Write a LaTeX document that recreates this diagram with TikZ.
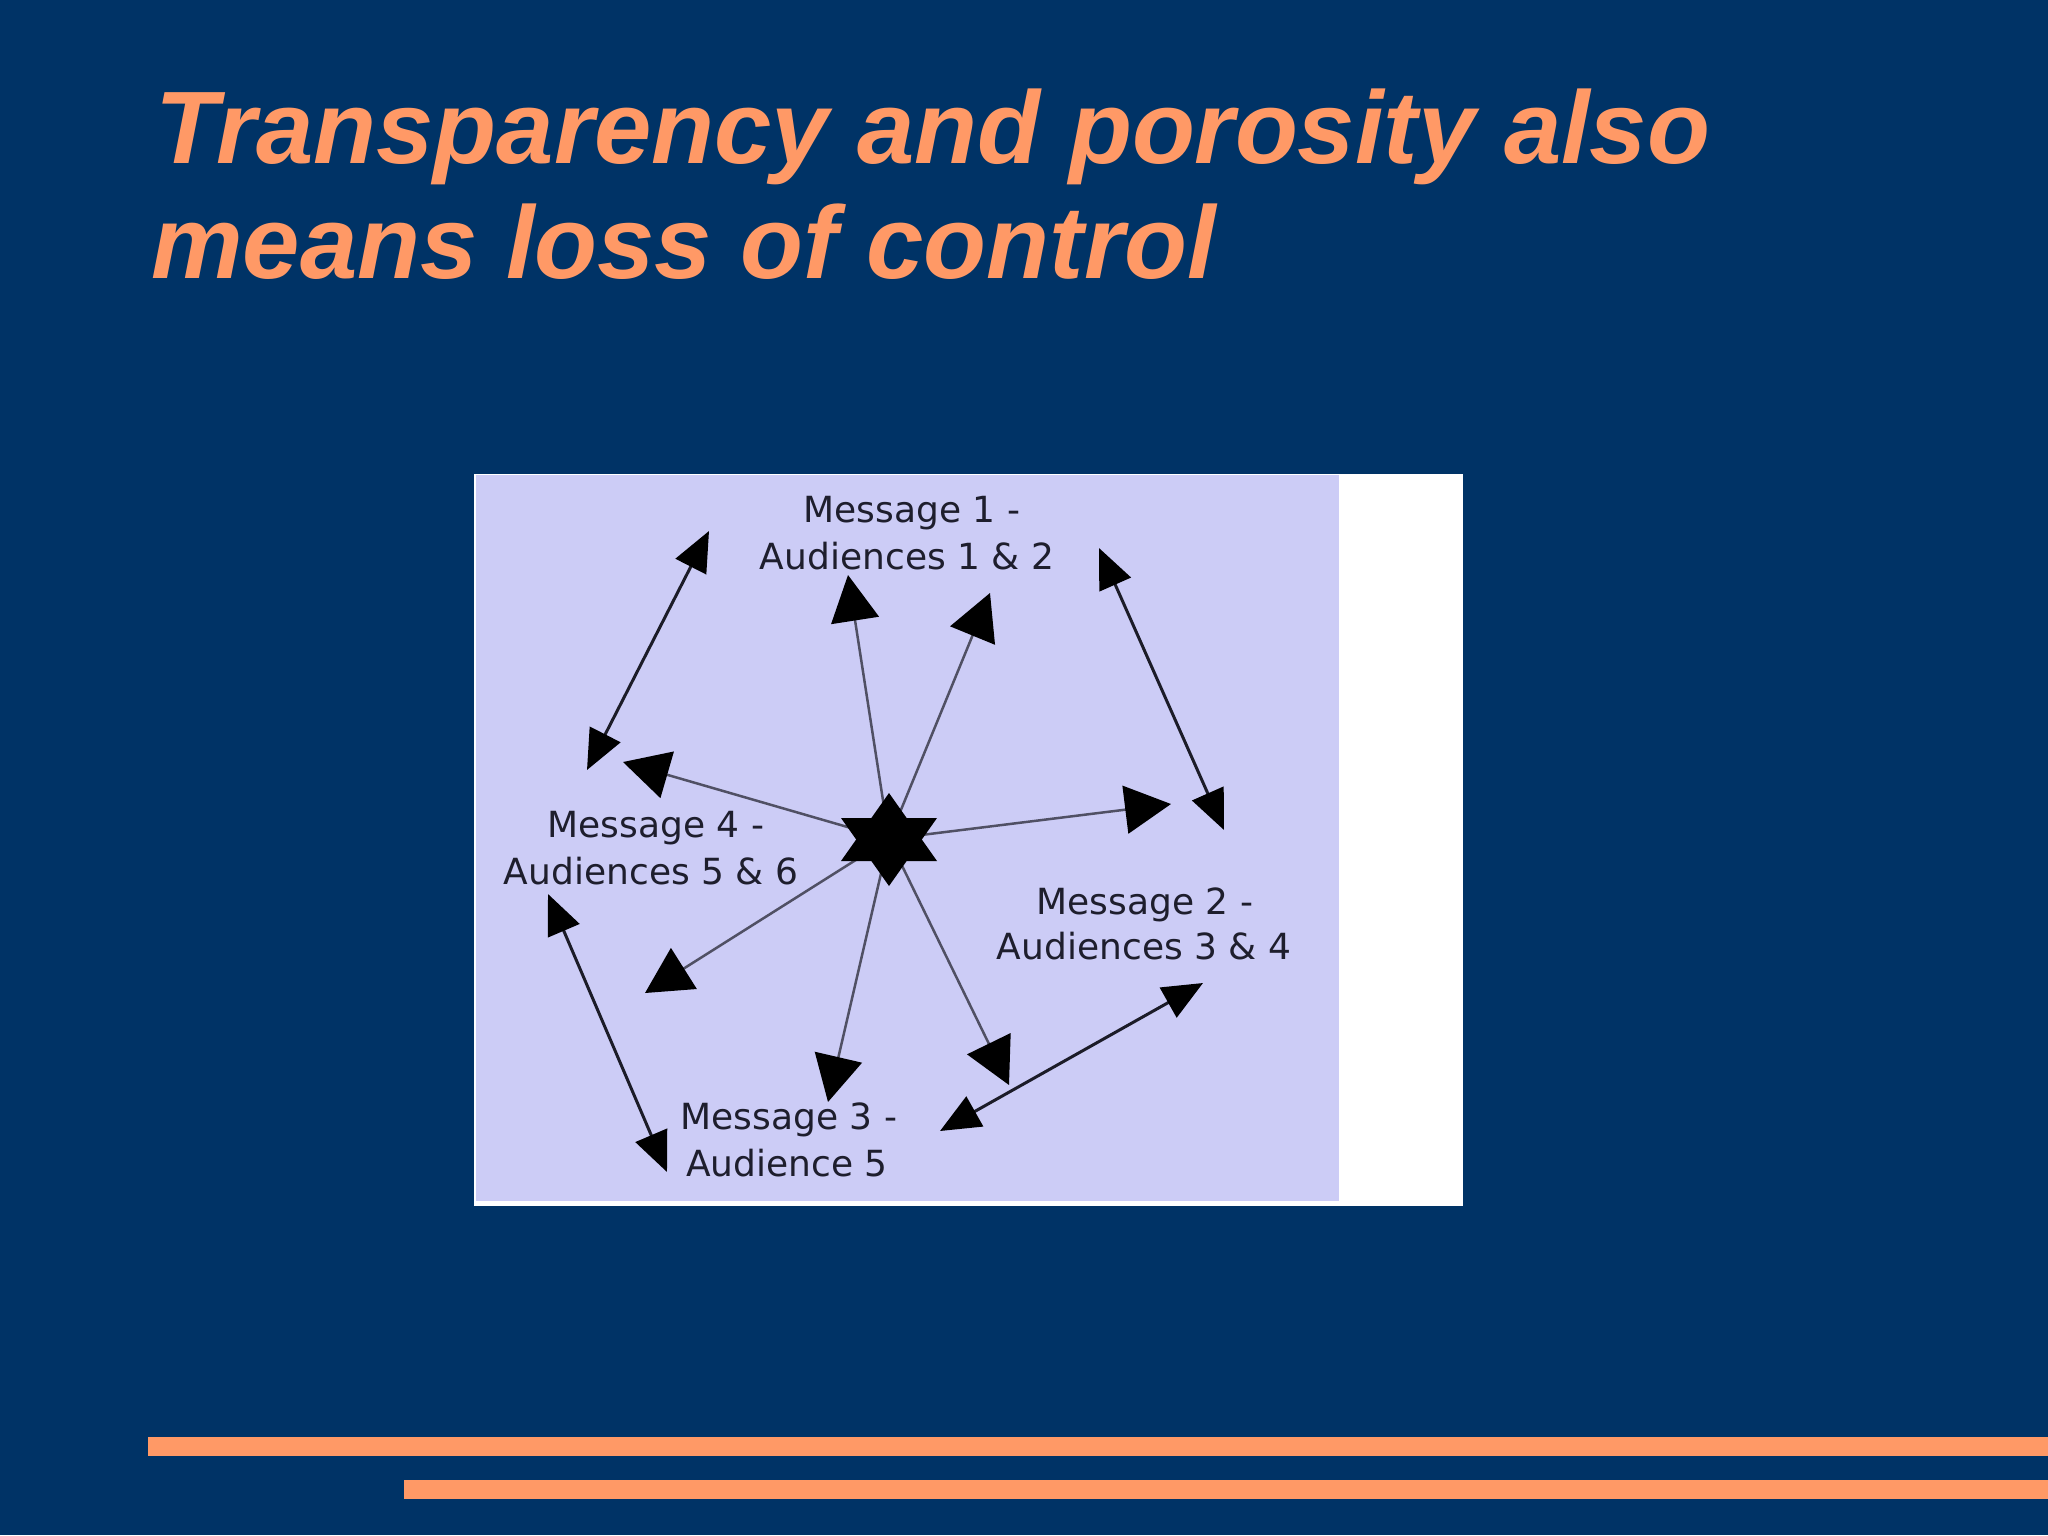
\documentclass[tikz,border=0pt]{standalone}
\usepackage{fontspec}
\setmainfont{Liberation Sans}
\newfontfamily\labelfont{DejaVu Sans}
\usetikzlibrary{arrows.meta}
\definecolor{slidebg}{RGB}{0,51,102}
\definecolor{accent}{RGB}{255,153,102}
\definecolor{lavender}{RGB}{204,204,246}
\definecolor{sendgray}{RGB}{80,80,100}
\definecolor{linkdark}{RGB}{28,28,40}
\definecolor{labeltext}{RGB}{30,30,45}
\tikzset{
  titletext/.style={anchor=base west, inner sep=0pt, text=accent,
    font=\bfseries\itshape\fontsize{103pt}{115pt}\selectfont},
  lbl/.style={anchor=base, inner sep=0pt, text=labeltext,
    font=\labelfont\fontsize{36pt}{46pt}\selectfont},
  send/.style={draw=sendgray, line width=2.5pt,
    -{Triangle[length=46pt,width=48pt,color=black]}},
  link/.style={draw=linkdark, line width=3pt,
    {Triangle[length=40pt,width=34pt,color=black]}-{Triangle[length=40pt,width=34pt,color=black]}},
}
\begin{document}
\begin{tikzpicture}[x=1pt,y=-1pt]
  % background
  \fill[slidebg] (0,0) rectangle (2048,1535);
  \useasboundingbox (0,0) rectangle (2048,1535);

  % title
  \node[titletext] (title1) at (155,163) {Transparency and porosity also};
  \node[titletext] (title2) at (151,278) {means loss of control};

  % bottom bars
  \fill[accent] (148,1437) rectangle (2048,1456);
  \fill[accent] (404,1480) rectangle (2048,1499);

  % picture panel
  \fill[white] (474,474) rectangle (1463,1206);
  \fill[lavender] (476,475) rectangle (1339,1201);

  % labels
  \node[lbl] (m1a) at (912,522) {Message 1 -};
  \node[lbl] (m1b) at (907,569) {Audiences 1 \& 2};
  \node[lbl] (m4a) at (656,837) {Message 4 -};
  \node[lbl] (m4b) at (651,884) {Audiences 5 \& 6};
  \node[lbl] (m2a) at (1145,914) {Message 2 -};
  \node[lbl] (m2b) at (1144,959) {Audiences 3 \& 4};
  \node[lbl] (m3a) at (789,1129) {Message 3 -};
  \node[lbl] (m3b) at (787,1176) {Audience 5};

  % connector end points
  \coordinate (hub) at (889,839);
  \coordinate (s1) at (848,575);
  \coordinate (s2) at (990,593);
  \coordinate (s3) at (1171,804);
  \coordinate (s4) at (1009,1085);
  \coordinate (s5) at (828,1102);
  \coordinate (s6) at (645,993);
  \coordinate (s7) at (623,762);
  \coordinate (d1a) at (709,531);
  \coordinate (d1b) at (587,770);
  \coordinate (d2a) at (1099,548);
  \coordinate (d2b) at (1224,830);
  \coordinate (d3a) at (548,894);
  \coordinate (d3b) at (667,1172);
  \coordinate (d4a) at (1203,983);
  \coordinate (d4b) at (940,1131);

  % arrows from the centre
  \foreach \t in {s1,s2,s3,s4,s5,s6,s7}
    \draw[send] (hub) -- (\t);

  % double arrows
  \draw[link] (d1a) -- (d1b);
  \draw[link] (d2a) -- (d2b);
  \draw[link] (d3a) -- (d3b);
  \draw[link] (d4a) -- (d4b);

  % six-pointed star
  \fill[black] (889,793) -- (937,861) -- (841,861) -- cycle;
  \fill[black] (889,886) -- (937,818) -- (841,818) -- cycle;
\end{tikzpicture}
\end{document}
